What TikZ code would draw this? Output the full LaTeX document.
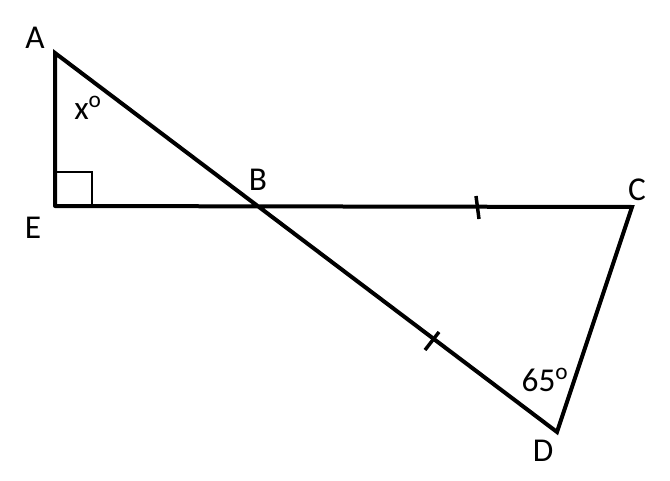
\documentclass[tikz,border=0pt]{standalone}
\usepackage{fontspec}
\setmainfont{Carlito}
\usetikzlibrary{calc}
\begin{document}
\begin{tikzpicture}[x=0.75pt,y=-0.75pt,
  edge/.style={line width=3pt,line cap=round,line join=miter},
  tick/.style={line width=2.6pt},
  lbl/.style={font=\fontsize{25}{25}\selectfont,inner sep=0pt}]
\useasboundingbox (0,0) rectangle (670,481);
\coordinate (A) at (55,53);
\coordinate (E) at (55,206);
\coordinate (B) at (257.7,206.4);
\coordinate (C) at (632,207);
\coordinate (D) at (557,432);
\draw[line width=1.3pt] (55,172) -- (92,172) -- (92,206);
\draw[edge] (E) -- (A) -- (D) -- (C) -- (E);
\draw[tick] (476,196) -- (479,219);
\draw[tick] ($(432,341)+(-7,9)$) -- ($(432,341)+(7,-9)$);
\node[lbl] (lA) at (35,38) {A};
\node[lbl] (lE) at (33,228) {E};
\node[lbl] (lB) at (258,180) {B};
\node[lbl] (lC) at (637,190) {C};
\node[lbl] (lD) at (543,451) {D};
\node[lbl] (lx) at (88,108) {x\textsuperscript{o}};
\node[lbl] (l65) at (545,380) {65\textsuperscript{o}};
\end{tikzpicture}
\end{document}
